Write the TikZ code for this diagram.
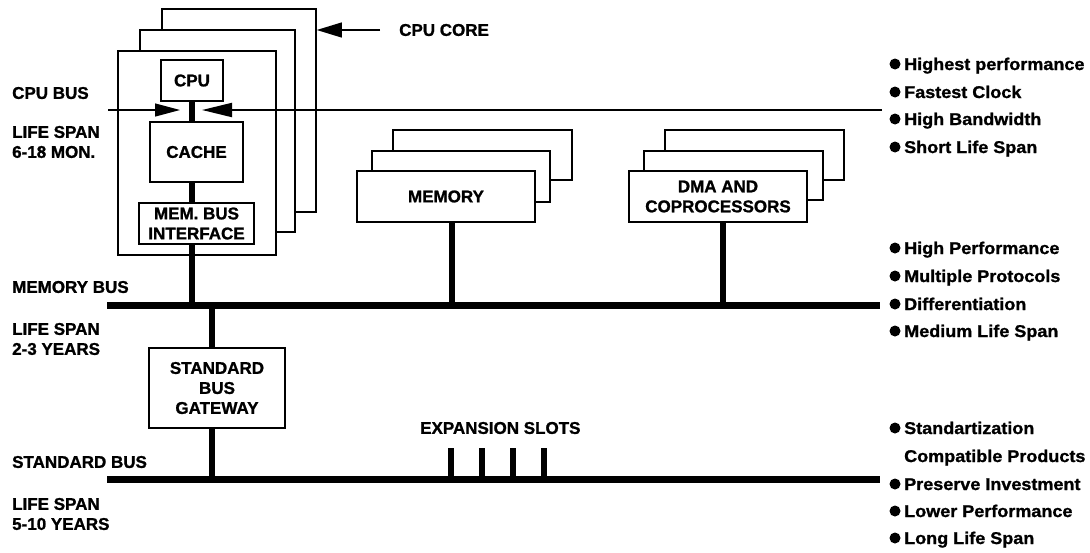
\documentclass[tikz,border=0pt]{standalone}
\usepackage{fontspec}
\setmainfont{Liberation Sans}[BoldFeatures={FakeBold=1.2}]
\newfontfamily\widefont{Liberation Sans}[FakeStretch=1.06, BoldFeatures={FakeBold=1.2}]
\usetikzlibrary{arrows.meta}
\begin{document}
\begin{tikzpicture}[x=1pt,y=-1pt,
  font=\fontsize{17}{20}\selectfont\bfseries,
  box/.style={draw, line width=1.6pt, fill=white, inner sep=0pt, align=center},
  bus/.style={line width=7pt},
  link/.style={line width=6.5pt},
  lbl/.style={anchor=west, inner sep=0pt, align=left},
  item/.style={anchor=base west, inner sep=0pt, font=\fontsize{17}{20}\selectfont\widefont\bfseries},
  dot/.style={circle, fill, inner sep=0pt, minimum size=11pt}
]
\useasboundingbox (0,0) rectangle (1090,552);

% ---------- CPU core stack ----------
\node[box, minimum width=154pt, minimum height=203pt] (core3) at (239,110.5) {};
\node[box, minimum width=155pt, minimum height=202pt] (core2) at (217.5,131) {};
\node[box, minimum width=158pt, minimum height=204pt] (core1) at (197,153) {};

\node[box, minimum width=62pt, minimum height=41pt] (cpu) at (192,80.5) {CPU};
\node[box, minimum width=93pt, minimum height=60pt] (cache) at (196.5,152) {CACHE};
\node[box, line width=2.5pt, minimum width=115pt, minimum height=41pt] (mbi) at (196.5,223.5) {MEM. BUS\\INTERFACE};

% ---------- memory stack ----------
\node[box, minimum width=179pt, minimum height=50pt] (mem3) at (482.5,155) {};
\node[box, minimum width=178pt, minimum height=51pt] (mem2) at (461,176.5) {};
\node[box, minimum width=178pt, minimum height=51pt] (mem1) at (446,196.5) {MEMORY};

% ---------- DMA stack ----------
\node[box, minimum width=179pt, minimum height=50pt] (dma3) at (754.5,155) {};
\node[box, minimum width=179pt, minimum height=49pt] (dma2) at (733.5,175.5) {};
\node[box, minimum width=178pt, minimum height=51pt] (dma1) at (718,196.5) {DMA AND\\COPROCESSORS};

% ---------- gateway ----------
\node[box, minimum width=136pt, minimum height=80pt] (gw) at (217,388) {STANDARD\\BUS\\GATEWAY};

% ---------- buses ----------
\coordinate (mbL) at (107,305);
\coordinate (mbR) at (880,305);
\coordinate (sbL) at (107,479);
\coordinate (sbR) at (880,479);
\draw[bus] (mbL) -- (mbR);
\draw[bus] (sbL) -- (sbR);

% ---------- links ----------
\draw[link] (cpu.south) -- (cpu.south |- cache.north);
\draw[link] (cpu.south |- cache.south) -- (cpu.south |- mbi.north);
\draw[link] (cpu.south |- mbi.south) -- (cpu.south |- mbL);
\draw[link] ([xshift=6pt]mem1.south) -- ([xshift=6pt]mem1.south |- mbL);
\draw[link] ([xshift=5pt]dma1.south) -- ([xshift=5pt]dma1.south |- mbL);
\draw[link] ([xshift=-5pt]gw.north |- mbL) -- ([xshift=-5pt]gw.north);
\draw[link] ([xshift=-5pt]gw.south) -- ([xshift=-5pt]gw.south |- sbL);

% expansion slots
\coordinate (slot1) at (451,448);
\coordinate (slot2) at (482,448);
\coordinate (slot3) at (513,448);
\coordinate (slot4) at (544,448);
\foreach \s in {slot1,slot2,slot3,slot4}
  \draw[line width=6pt] (\s) -- (\s |- sbL);

% ---------- CPU bus ----------
\coordinate (cbL) at (108,110);
\coordinate (cbR) at (882,110);
\coordinate (tipL) at (180,110);
\coordinate (tipR) at (202,110);
\draw[line width=1.2pt, -{Triangle[length=25pt,width=13pt]}] (cbL) -- (tipL);
\draw[line width=2pt, -{Triangle[length=30pt,width=14pt]}] (cbR) -- (tipR);

% ---------- CPU core label ----------
\node[lbl] (corelbl) at (399,30) {CPU CORE};
\coordinate (ccStart) at (380,30);
\draw[line width=1.2pt, -{Triangle[length=25pt,width=15pt]}] (ccStart) -- (core3.east |- ccStart);

% ---------- left labels ----------
\node[lbl] (l1) at (12,93) {CPU BUS};
\node[lbl] (l2) at (12,142) {LIFE SPAN\\6-18 MON.};
\node[lbl] (l3) at (12,287) {MEMORY BUS};
\node[lbl] (l4) at (12,339) {LIFE SPAN\\2-3 YEARS};
\node[lbl] (l5) at (12,462) {STANDARD BUS};
\node[lbl] (l6) at (12,514) {LIFE SPAN\\5-10 YEARS};
\node[lbl] (expl) at (420,428) {EXPANSION SLOTS};

% ---------- right column ----------
\foreach \y/\t [count=\i] in {
   64/Highest performance,
   92/Fastest Clock,
   119/High Bandwidth,
   147/Short Life Span,
   248/High Performance,
   276/Multiple Protocols,
   304/Differentiation,
   331/Medium Life Span,
   428/Standartization,
   484/Preserve Investment,
   511/Lower Performance,
   538/Long Life Span}{
  \node[dot] (b\i) at (895,\y) {};
  \node[item] (t\i) at (904,\y+6) {\t};
}
\node[item] (tcp) at (904,462) {Compatible Products};
\end{tikzpicture}
\end{document}
